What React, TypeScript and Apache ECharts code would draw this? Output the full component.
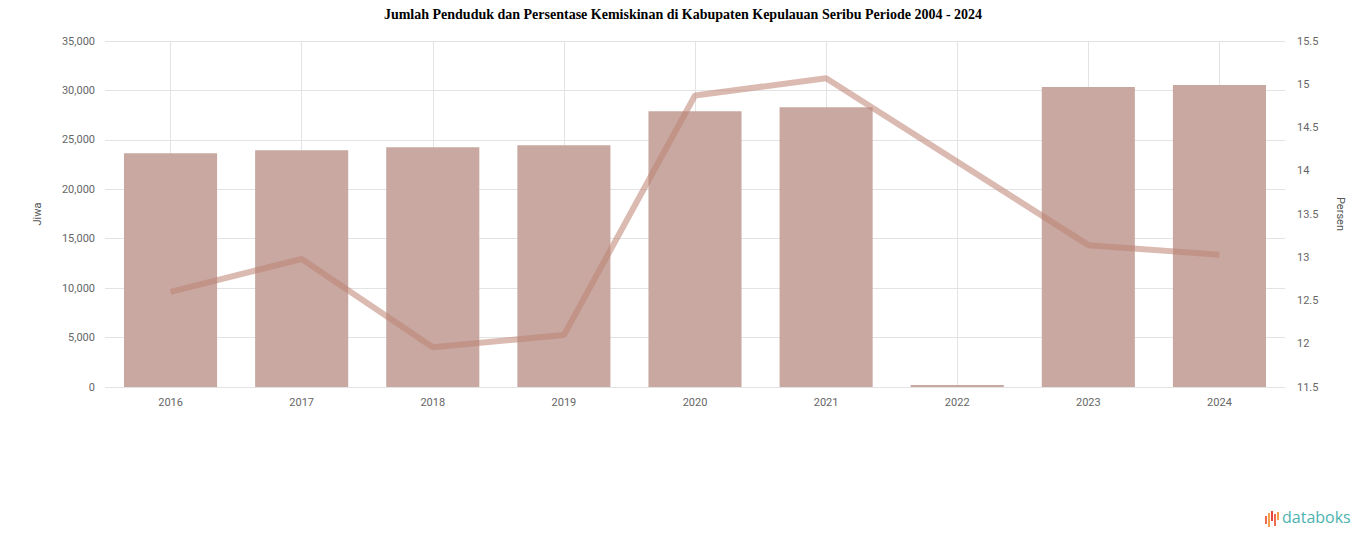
import React, { useEffect, useRef } from "react";
import * as echarts from "echarts";

const categories = ["2016", "2017", "2018", "2019", "2020", "2021", "2022", "2023", "2024"];
const population = [23650, 23950, 24250, 24450, 27900, 28300, 200, 30350, 30550];
const povertyPct = [12.6, 12.98, 11.96, 12.1, 14.87, 15.07, null, 13.14, 13.03];

const leftMin = 0;
const leftMax = 35000;
const leftInterval = 5000;
const rightMin = 11.5;
const rightMax = 15.5;
const rightInterval = 0.5;

const titleText = "Jumlah Penduduk dan Persentase Kemiskinan di Kabupaten Kepulauan Seribu Periode 2004 - 2024";

export default function App() {
  const ref = useRef<HTMLDivElement>(null);
  useEffect(() => {
    document.body.style.margin = "0";
    const chart = echarts.init(ref.current!, null, { renderer: "svg" });
    chart.setOption({
      animation: false,
      backgroundColor: "#ffffff",
      title: {
        text: titleText,
        left: "center",
        top: 2,
        textStyle: { fontFamily: "Liberation Serif", fontSize: 14, fontWeight: "bold", color: "#000" },
      },
      grid: { left: 105, right: 81, top: 41, bottom: 160, containLabel: false },
      xAxis: {
        type: "category",
        data: categories,
        axisLine: { show: false },
        axisTick: { show: false },
        axisLabel: { color: "#666", fontSize: 11, margin: 10, fontFamily: "Roboto" },
        splitLine: { show: true, alignWithLabel: true, lineStyle: { color: "#e3e3e3", width: 1 } },
      },
      yAxis: [
        {
          type: "value",
          min: leftMin,
          max: leftMax,
          interval: leftInterval,
          name: "Jiwa",
          nameLocation: "middle",
          nameGap: 62,
          nameTextStyle: { color: "#555", fontSize: 11, fontFamily: "Roboto" },
          axisLabel: {
            color: "#666",
            fontSize: 11,
            margin: 10,
            fontFamily: "Roboto",
            formatter: (v: number) => v.toLocaleString("en-US"),
          },
          axisLine: { show: false },
          axisTick: { show: false },
          splitLine: { lineStyle: { color: "#e3e3e3" } },
        },
        {
          type: "value",
          min: rightMin,
          max: rightMax,
          interval: rightInterval,
          name: "Persen",
          nameLocation: "middle",
          nameGap: 50,
          nameRotate: -90,
          nameTextStyle: { color: "#555", fontSize: 11, fontFamily: "Roboto" },
          axisLabel: { color: "#666", fontSize: 11, margin: 12, fontFamily: "Roboto" },
          axisLine: { show: false },
          axisTick: { show: false },
          splitLine: { show: false },
        },
      ],
      series: [
        {
          type: "bar",
          name: "Jumlah Penduduk",
          data: population,
          barWidth: "71%",
          itemStyle: { color: "#c8a8a1" },
          yAxisIndex: 0,
        },
        {
          type: "line",
          name: "Persentase Kemiskinan",
          data: povertyPct,
          yAxisIndex: 1,
          connectNulls: true,
          symbol: "none",
          lineStyle: { color: "rgba(190,130,115,0.55)", width: 6 },
          itemStyle: { color: "rgba(190,130,115,0.55)" },
        },
      ],
      graphic: [
        {
          type: "group",
          left: 1265,
          top: 509,
          children: [
            { type: "rect", shape: { x: 0, y: 5, width: 2, height: 8 }, style: { fill: "#f06b4f" } },
            { type: "rect", shape: { x: 3, y: 2, width: 2, height: 14 }, style: { fill: "#f5a04a" } },
            { type: "rect", shape: { x: 6, y: 0, width: 2, height: 10 }, style: { fill: "#e8463f" } },
            { type: "rect", shape: { x: 9, y: 3, width: 2, height: 12 }, style: { fill: "#f06b4f" } },
            { type: "rect", shape: { x: 12, y: 1, width: 2, height: 8 }, style: { fill: "#f5a04a" } },
            {
              type: "text",
              x: 17,
              y: -2,
              style: { text: "databoks", fill: "#4cb3b0", font: "500 16px 'Open Sans'" },
            },
          ],
        },
      ],
    });
    return () => chart.dispose();
  }, []);
  return <div ref={ref} style={{ width: 1366, height: 547 }} />;
}
